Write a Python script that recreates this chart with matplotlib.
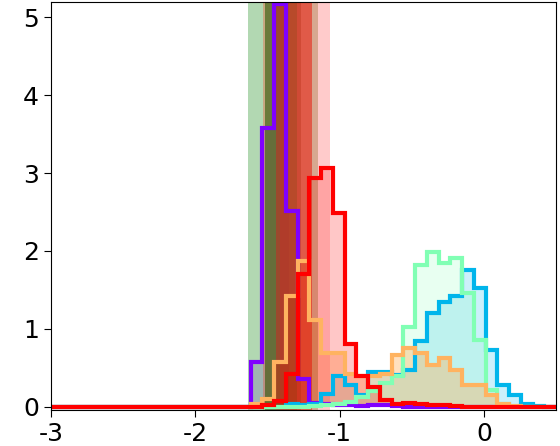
import numpy as np
import matplotlib.pyplot as plt
from matplotlib.colors import to_rgb

plt.rcParams['axes.unicode_minus'] = False

# bin edges (43 bins from -3 to 0.5)
edges = np.linspace(-3, 0.5, 44)

def bins(d):
    v = np.zeros(43)
    for k, h in d.items():
        v[k] = h
    return v

purple = bins({17: 0.58, 18: 3.58, 19: 5.17, 20: 2.51, 21: 0.36, 22: 0.05, 23: 0.03,
               24: 0.02, 25: 0.02, 26: 0.01, 27: 0.02, 28: 0.02, 29: 0.01})
blue = bins({20: 0.03, 21: 0.02, 22: 0.04, 23: 0.17, 24: 0.40, 25: 0.28, 26: 0.15,
             27: 0.45, 28: 0.45, 29: 0.41, 30: 0.47, 31: 0.84, 32: 1.20, 33: 1.35,
             34: 1.42, 35: 1.76, 36: 1.52, 37: 0.73, 38: 0.28, 39: 0.15, 40: 0.04, 41: 0.01})
aqua = bins({22: 0.01, 23: 0.02, 24: 0.03, 25: 0.06, 26: 0.12, 27: 0.20, 28: 0.30,
             29: 0.40, 30: 1.03, 31: 1.82, 32: 1.99, 33: 1.85, 34: 1.91, 35: 1.46,
             36: 0.86, 37: 0.21, 38: 0.04})
orange = bins({17: 0.03, 18: 0.10, 19: 0.58, 20: 1.42, 21: 1.87, 22: 1.12, 23: 0.69,
               24: 0.69, 25: 0.42, 26: 0.40, 27: 0.40, 28: 0.42, 29: 0.66, 30: 0.75,
               31: 0.69, 32: 0.54, 33: 0.62, 34: 0.47, 35: 0.28, 36: 0.28, 37: 0.15,
               38: 0.04, 39: 0.01})
red = bins({18: 0.02, 19: 0.08, 20: 0.42, 21: 1.70, 22: 2.94, 23: 3.07, 24: 2.49,
            25: 0.80, 26: 0.39, 27: 0.26, 28: 0.09, 29: 0.03, 30: 0.05, 31: 0.04,
            32: 0.02, 33: 0.02, 34: 0.01})

series = [purple, blue, aqua, orange, red]
fill_alpha = [0.2, 0.2, 0.18, 0.4, 0.22]

# vertical bands
band_edges = [-1.637, -1.533, -1.514, -1.440, -1.410, -1.350, -1.298, -1.270, -1.194, -1.152, -1.069]
band_colors = ['#b3d9b3', '#c8a882', '#6b7a3a', '#a0522d', '#b5452a', '#b84a2a',
               '#d04a35', '#e05a48', '#d8a890', '#ffcccc']

fig = plt.figure(figsize=(5.6, 4.46), dpi=100)
ax = fig.add_axes([0.091, 0.081, 0.902, 0.915])

colors = plt.cm.rainbow(np.linspace(0, 1, len(series)))
for vals, c, a in zip(series, colors, fill_alpha):
    ax.stairs(vals, edges, fill=True, color=c, alpha=a, lw=0, zorder=1)

# translucent bands over the fills, tuned so they look right on white
for i in range(len(band_colors)):
    obs = np.array(to_rgb(band_colors[i]))
    a = max(1 - obs.min(), 0.3)
    c = np.clip(1 - (1 - obs) / a, 0, 1)
    ax.axvspan(band_edges[i], band_edges[i + 1], color=c, alpha=a, lw=0, zorder=1.5)

for vals, c in zip(series, colors):
    ax.stairs(vals, edges, color=c, lw=3, zorder=2)

ax.set_xlim(-3, 0.5)
ax.set_ylim(-0.04, 5.2)
ax.set_xticks([-3, -2, -1, 0])
ax.set_yticks([0, 1, 2, 3, 4, 5])
ax.tick_params(labelsize=18, length=5)

fig.savefig('out.png', dpi=100)
